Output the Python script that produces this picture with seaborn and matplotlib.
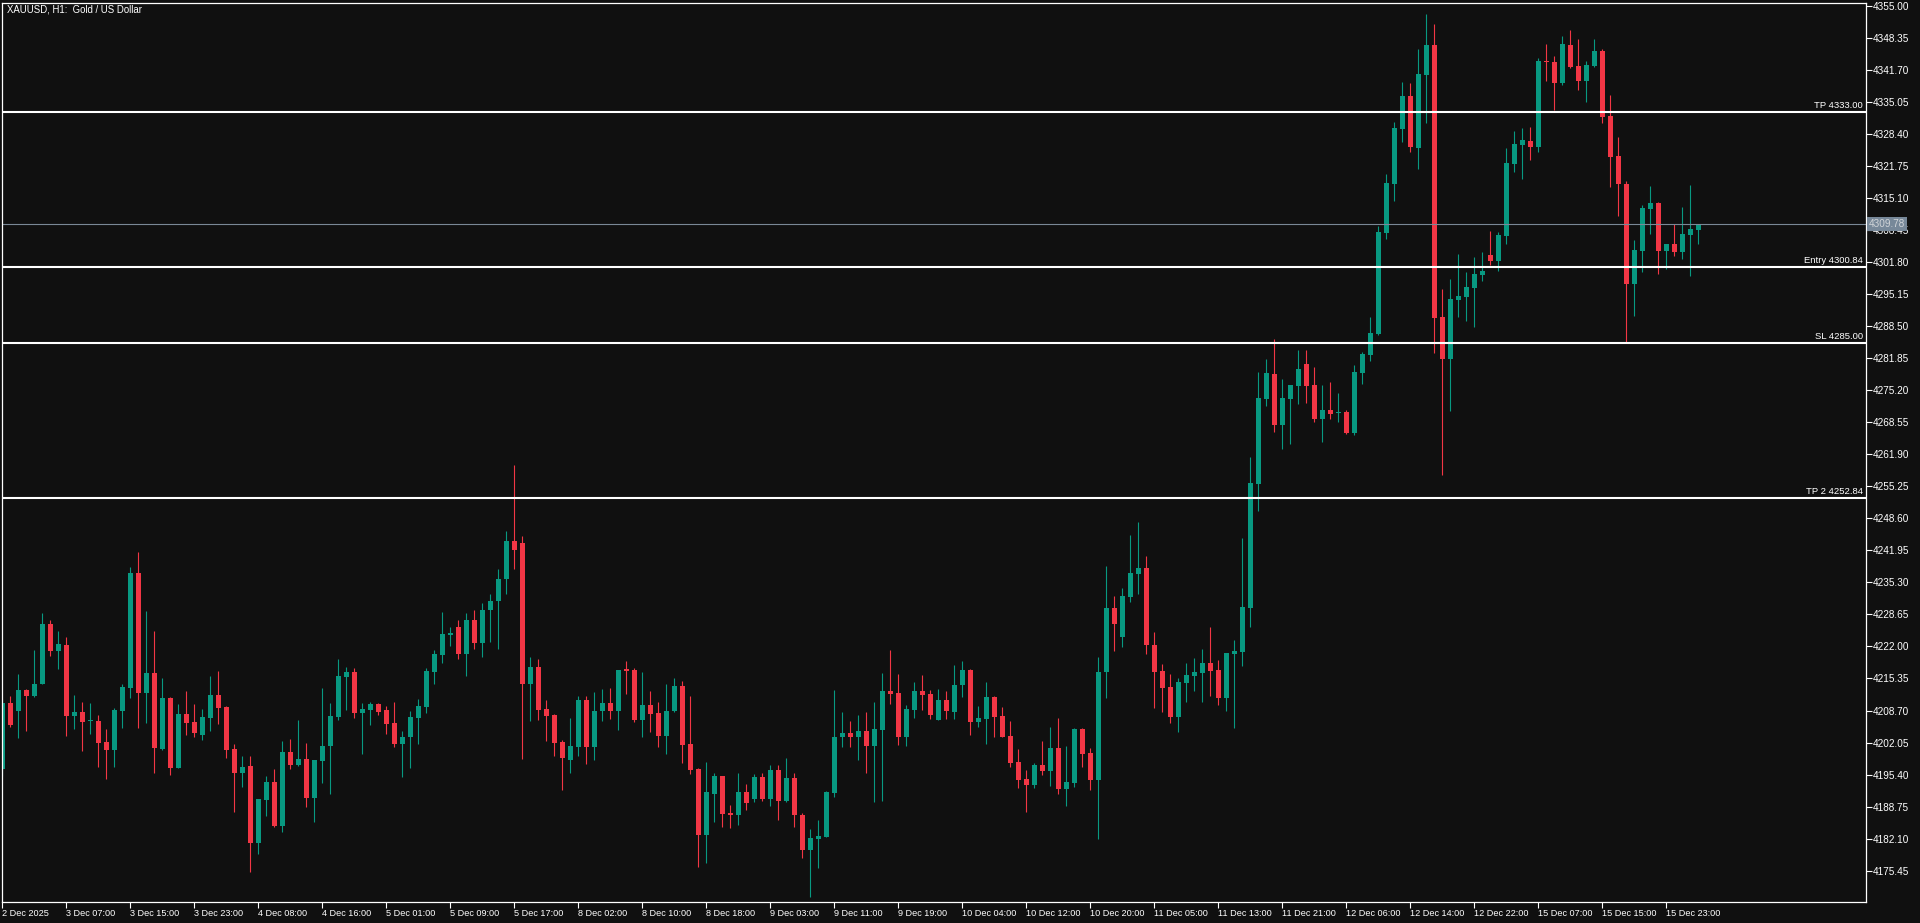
import matplotlib
matplotlib.use("Agg")
import matplotlib.pyplot as plt
import matplotlib.transforms as mtransforms
import numpy as np
import pandas as pd
import seaborn as sns

# XAUUSD H1 candles (bar 0 = 2 Dec 22:00)
opens = [
    4196.6, 4210.3, 4208.5, 4213.0, 4211.8, 4214.3, 4226.7, 4221.1, 4222.3, 4207.6,
    4208.4, 4206.45, 4206.5, 4202.2, 4200.6, 4208.7, 4213.4, 4237.3, 4212.3, 4216.5,
    4200.7, 4211.3, 4196.8, 4208.0, 4206.3, 4203.7, 4207.2, 4211.9, 4209.4, 4200.7,
    4195.8, 4197.2, 4181.1, 4190.2, 4193.9, 4184.8, 4200.1, 4197.3, 4198.6, 4190.6,
    4198.3, 4201.3, 4207.4, 4215.7, 4216.7, 4208.1, 4208.9, 4210.1, 4208.8, 4206.1,
    4201.8, 4203.1, 4207.2, 4209.5, 4216.8, 4220.3, 4224.4, 4226.0, 4220.4, 4227.5,
    4222.8, 4229.5, 4231.5, 4236.0, 4244.0, 4243.5, 4214.3, 4217.7, 4209.0, 4207.8,
    4202.2, 4198.5, 4201.2, 4210.9, 4201.2, 4208.5, 4210.3, 4208.5, 4217.1, 4217.1,
    4206.8, 4209.8, 4208.2, 4203.5, 4208.5, 4213.8, 4201.8, 4196.6, 4182.9, 4191.4,
    4195.1, 4187.4, 4187.1, 4191.8, 4190.4, 4194.9, 4190.4, 4196.4, 4190.0, 4194.7,
    4187.0, 4179.8, 4182.1, 4182.5, 4191.6, 4203.1, 4204.0, 4203.1, 4204.5, 4201.4,
    4204.7, 4212.8, 4212.3, 4203.1, 4208.9, 4212.8, 4212.1, 4206.8, 4210.9, 4208.3,
    4213.9, 4217.1, 4206.4, 4207.0, 4211.5, 4207.6, 4203.4, 4198.0, 4194.5, 4193.3,
    4197.4, 4196.2, 4200.9, 4192.5, 4193.7, 4204.9, 4199.9, 4194.3, 4216.6, 4230.0,
    4224.0, 4232.3, 4237.1, 4238.3, 4222.3, 4216.9, 4213.6, 4207.4, 4214.4, 4215.9,
    4216.5, 4218.6, 4217.1, 4211.3, 4220.4, 4220.9, 4230.0, 4255.7, 4273.4, 4278.6,
    4268.0, 4273.4, 4276.1, 4280.7, 4276.3, 4269.2, 4271.1, 4270.4, 4270.7, 4266.3,
    4278.8, 4282.5, 4286.9, 4307.9, 4318.1, 4329.5, 4336.3, 4325.5, 4340.7, 4346.9,
    4290.4, 4281.7, 4294.0, 4294.6, 4296.5, 4299.2, 4303.3, 4302.1, 4307.3, 4322.2,
    4326.2, 4327.0, 4325.7, 4343.6, 4343.4, 4339.0, 4346.9, 4342.6, 4339.4, 4342.6,
    4345.7, 4332.2, 4323.9, 4318.1, 4297.3, 4304.1, 4312.9, 4314.1, 4304.1, 4305.6,
    4303.9, 4307.5, 4308.5,
]
highs = [
    4211.0, 4211.7, 4216.3, 4213.1, 4221.3, 4229.0, 4227.5, 4225.2, 4224.0, 4211.9,
    4210.5, 4210.3, 4207.8, 4204.9, 4209.2, 4214.3, 4238.5, 4241.6, 4229.4, 4225.2,
    4215.5, 4211.5, 4210.1, 4212.8, 4210.1, 4209.0, 4215.9, 4216.9, 4209.6, 4201.8,
    4199.3, 4199.3, 4190.4, 4195.1, 4196.6, 4202.4, 4202.8, 4206.7, 4202.0, 4198.5,
    4213.4, 4210.3, 4219.4, 4217.7, 4217.5, 4210.3, 4210.5, 4210.3, 4209.6, 4210.5,
    4204.5, 4208.6, 4211.1, 4217.5, 4221.3, 4229.2, 4226.0, 4227.5, 4229.0, 4229.5,
    4231.0, 4233.0, 4238.0, 4246.0, 4259.7, 4245.0, 4219.8, 4219.4, 4210.9, 4207.9,
    4202.6, 4207.1, 4211.7, 4211.7, 4212.5, 4213.2, 4213.4, 4217.2, 4219.0, 4217.5,
    4216.7, 4212.8, 4210.5, 4214.2, 4215.5, 4214.8, 4211.7, 4196.7, 4198.0, 4195.7,
    4195.2, 4189.1, 4195.7, 4193.4, 4195.5, 4195.7, 4197.4, 4197.4, 4198.8, 4195.7,
    4187.4, 4184.1, 4186.0, 4192.0, 4213.0, 4208.4, 4206.5, 4207.8, 4208.4, 4210.5,
    4216.5, 4221.3, 4216.3, 4209.8, 4214.6, 4216.1, 4213.0, 4213.2, 4212.8, 4218.2,
    4219.0, 4217.3, 4209.6, 4214.6, 4211.7, 4209.4, 4206.5, 4200.7, 4196.4, 4197.8,
    4202.4, 4205.3, 4207.1, 4201.3, 4205.1, 4205.0, 4200.9, 4219.8, 4238.7, 4232.5,
    4234.1, 4245.2, 4247.9, 4240.8, 4225.0, 4218.4, 4216.3, 4215.5, 4218.6, 4219.6,
    4221.5, 4226.0, 4219.2, 4220.7, 4223.3, 4244.5, 4261.4, 4279.0, 4281.7, 4285.9,
    4277.6, 4276.4, 4283.6, 4283.6, 4280.0, 4276.3, 4276.9, 4274.6, 4271.1, 4280.5,
    4283.2, 4290.4, 4309.3, 4320.1, 4330.9, 4339.2, 4339.0, 4346.1, 4353.4, 4351.3,
    4296.2, 4298.3, 4303.5, 4299.8, 4302.9, 4303.9, 4308.3, 4308.1, 4325.5, 4329.1,
    4329.7, 4329.9, 4344.2, 4347.1, 4344.6, 4348.8, 4350.0, 4348.2, 4343.6, 4348.2,
    4346.1, 4336.5, 4327.8, 4318.7, 4306.4, 4313.7, 4317.6, 4314.3, 4305.6, 4309.7,
    4313.3, 4317.8, 4309.8,
]
lows = [
    4195.0, 4205.3, 4202.9, 4204.5, 4211.6, 4214.2, 4220.1, 4217.4, 4203.5, 4204.9,
    4200.2, 4203.9, 4197.0, 4194.5, 4197.0, 4205.1, 4211.4, 4205.1, 4206.2, 4195.8,
    4200.4, 4195.4, 4196.8, 4203.7, 4203.1, 4202.6, 4204.5, 4205.8, 4198.9, 4187.7,
    4192.9, 4175.2, 4178.8, 4186.7, 4184.6, 4183.5, 4196.6, 4197.2, 4188.7, 4185.6,
    4193.7, 4191.4, 4206.8, 4208.9, 4207.2, 4199.7, 4205.6, 4207.8, 4203.9, 4201.2,
    4194.8, 4196.8, 4201.8, 4208.1, 4214.3, 4218.6, 4222.0, 4219.5, 4215.9, 4221.5,
    4219.9, 4223.0, 4221.5, 4233.0, 4238.0, 4198.7, 4206.5, 4206.8, 4202.4, 4199.3,
    4192.1, 4195.8, 4199.3, 4197.5, 4198.5, 4206.6, 4207.0, 4204.7, 4212.2, 4206.4,
    4203.1, 4204.3, 4201.2, 4199.7, 4208.3, 4197.9, 4195.6, 4176.3, 4177.1, 4185.6,
    4184.6, 4184.2, 4185.0, 4188.1, 4189.6, 4190.0, 4188.9, 4186.0, 4189.8, 4184.6,
    4178.1, 4170.0, 4175.9, 4182.4, 4190.8, 4201.2, 4201.2, 4198.5, 4195.8, 4189.6,
    4189.9, 4210.1, 4201.6, 4201.4, 4207.2, 4208.9, 4207.0, 4206.8, 4207.0, 4207.0,
    4211.6, 4203.7, 4205.3, 4201.8, 4203.1, 4203.1, 4197.0, 4192.7, 4187.7, 4192.7,
    4195.4, 4193.1, 4191.4, 4188.9, 4192.9, 4197.0, 4192.1, 4182.1, 4211.2, 4221.1,
    4221.9, 4231.2, 4232.9, 4220.4, 4209.2, 4208.4, 4206.1, 4204.2, 4210.5, 4212.8,
    4210.5, 4211.7, 4209.8, 4208.6, 4205.1, 4217.9, 4226.0, 4250.1, 4271.9, 4266.5,
    4263.0, 4264.1, 4272.4, 4272.6, 4268.6, 4264.5, 4269.2, 4268.6, 4266.1, 4265.9,
    4276.5, 4281.3, 4286.7, 4306.6, 4314.5, 4326.8, 4324.7, 4321.2, 4330.7, 4283.0,
    4257.6, 4270.9, 4290.4, 4289.6, 4288.4, 4297.9, 4301.2, 4300.0, 4305.6, 4320.5,
    4319.1, 4323.0, 4324.7, 4339.4, 4333.4, 4338.6, 4342.1, 4337.6, 4335.1, 4342.4,
    4330.7, 4317.4, 4311.4, 4285.2, 4290.6, 4299.8, 4307.7, 4299.4, 4300.4, 4303.1,
    4302.5, 4298.9, 4305.6,
]
closes = [
    4210.3, 4205.6, 4213.0, 4211.8, 4214.3, 4226.7, 4221.1, 4222.5, 4207.6, 4208.4,
    4206.4, 4206.55, 4202.0, 4200.6, 4208.8, 4213.6, 4237.3, 4212.3, 4216.5, 4201.0,
    4211.3, 4196.8, 4208.0, 4206.2, 4204.1, 4207.4, 4211.9, 4209.3, 4200.6, 4195.8,
    4197.0, 4181.1, 4190.3, 4193.9, 4184.8, 4200.1, 4197.3, 4198.6, 4190.6, 4198.4,
    4201.3, 4207.6, 4215.9, 4216.7, 4208.1, 4209.0, 4210.1, 4208.3, 4206.0, 4201.8,
    4203.2, 4207.4, 4209.6, 4216.9, 4220.4, 4224.6, 4224.8, 4220.4, 4227.5, 4222.7,
    4229.5, 4231.5, 4236.0, 4244.0, 4242.0, 4214.3, 4217.7, 4208.9, 4207.6, 4202.0,
    4198.9, 4201.3, 4210.9, 4201.2, 4208.6, 4210.3, 4208.5, 4217.1, 4217.0, 4206.8,
    4209.8, 4208.0, 4203.5, 4208.6, 4213.8, 4201.6, 4196.4, 4182.9, 4191.8, 4195.1,
    4187.3, 4187.1, 4191.8, 4189.4, 4194.9, 4190.4, 4196.4, 4190.0, 4194.7, 4186.9,
    4179.8, 4182.2, 4182.6, 4191.8, 4203.2, 4204.0, 4203.1, 4204.5, 4201.4, 4204.9,
    4212.8, 4212.2, 4203.1, 4209.0, 4212.8, 4212.0, 4207.8, 4210.9, 4208.5, 4214.0,
    4217.1, 4206.4, 4207.1, 4211.5, 4207.4, 4203.3, 4197.9, 4194.3, 4193.3, 4197.4,
    4196.2, 4200.9, 4192.5, 4193.9, 4204.9, 4199.7, 4194.3, 4216.7, 4230.0, 4226.7,
    4232.5, 4237.3, 4238.3, 4222.3, 4216.7, 4213.4, 4207.4, 4214.6, 4216.1, 4216.7,
    4218.6, 4216.9, 4211.3, 4220.6, 4221.1, 4230.2, 4256.0, 4273.6, 4278.8, 4268.0,
    4273.6, 4276.3, 4279.6, 4276.1, 4269.2, 4271.1, 4270.3, 4270.6, 4266.3, 4279.0,
    4282.7, 4287.1, 4308.1, 4318.3, 4329.7, 4336.3, 4325.7, 4340.9, 4346.9, 4290.2,
    4281.7, 4294.2, 4294.8, 4296.7, 4299.4, 4300.0, 4302.1, 4307.5, 4322.4, 4326.4,
    4327.2, 4325.7, 4343.6, 4343.3, 4339.0, 4347.1, 4342.4, 4339.4, 4342.8, 4345.7,
    4332.0, 4323.7, 4318.1, 4297.3, 4304.3, 4313.1, 4314.1, 4304.1, 4305.6, 4303.9,
    4307.7, 4308.7, 4309.8,
]

time_labels = [
    "2 Dec 2025", "3 Dec 07:00", "3 Dec 15:00", "3 Dec 23:00", "4 Dec 08:00",
    "4 Dec 16:00", "5 Dec 01:00", "5 Dec 09:00", "5 Dec 17:00", "8 Dec 02:00",
    "8 Dec 10:00", "8 Dec 18:00", "9 Dec 03:00", "9 Dec 11:00", "9 Dec 19:00",
    "10 Dec 04:00", "10 Dec 12:00", "10 Dec 20:00", "11 Dec 05:00", "11 Dec 13:00",
    "11 Dec 21:00", "12 Dec 06:00", "12 Dec 14:00", "12 Dec 22:00", "15 Dec 07:00",
    "15 Dec 15:00", "15 Dec 23:00",
]
price_ticks = [4355.00 - 6.65 * k for k in range(28)]

level_prices = [4333.00, 4300.84, 4285.00, 4252.84]
level_names = ["TP 4333.00", "Entry 4300.84", "SL 4285.00", "TP 2 4252.84"]
last_price = 4309.78
title = "XAUUSD, H1:  Gold / US Dollar"

BG = "#101010"
UP = "#089981"
DOWN = "#f23645"
FONT = ["Liberation Sans", "DejaVu Sans"]

df = pd.DataFrame({"open": opens, "high": highs, "low": lows, "close": closes})
df["bar"] = np.arange(len(df))
df["color"] = np.where(df["close"] >= df["open"], UP, DOWN)
df["body_low"] = df[["open", "close"]].min(axis=1)
df["body_h"] = (df["close"] - df["open"]).abs().clip(lower=0.25)

sns.set_theme(style="dark", rc={"axes.facecolor": BG, "figure.facecolor": BG})
plt.rcParams["font.family"] = FONT

fig = plt.figure(figsize=(19.2, 9.23), dpi=100)
ax = fig.add_axes([2 / 1920, 1 - 902 / 923, 1864 / 1920, 899 / 923])
ax.set_facecolor(BG)

# wicks and bodies
ax.vlines(df["bar"], df["low"], df["high"], colors=df["color"], linewidth=0.8)
ax.bar(df["bar"], df["body_h"], bottom=df["body_low"], width=0.62,
       color=df["color"], linewidth=0)

# trade levels
blend = mtransforms.blended_transform_factory(ax.transAxes, ax.transData)
for price, name in zip(level_prices, level_names):
    ax.axhline(price, color="white", linewidth=1.5)
    ax.text(1 - 3 / 1864, price + 0.45, name, transform=blend, ha="right",
            va="bottom", fontsize=6.8, color="white")

ax.axhline(last_price, color="#7a8896", linewidth=0.8)
ax.text(1 + 3 / 1864, last_price, f"{last_price:.2f}", transform=blend,
        ha="left", va="center", fontsize=7.2, color="#d0d4d8", clip_on=False,
        bbox=dict(facecolor="#778899", edgecolor="none", pad=1.2), zorder=5)

ax.set_xlim(-0.0625, 232.94)
ax.set_ylim(4168.93, 4355.64)

ax.yaxis.tick_right()
ax.set_yticks(price_ticks)
ax.set_yticklabels([f"{v:.2f}" for v in price_ticks])
ax.set_xticks(np.arange(0, 8 * len(time_labels), 8))
ax.set_xticklabels(time_labels)
for lab in ax.get_xticklabels():
    lab.set_horizontalalignment("left")

ax.tick_params(axis="y", direction="out", length=4, width=0.8, colors="white",
               labelsize=7.2, pad=1, right=True, left=False)
ax.tick_params(axis="x", direction="out", length=4, width=0.8, colors="white",
               labelsize=6.6, pad=1, bottom=True)
ax.grid(False)
for sp in ax.spines.values():
    sp.set_color("white")
    sp.set_linewidth(0.9)
    sp.set_visible(True)

fig.text(7 / 1920, 1 - 10 / 923, title, ha="left", va="center",
         fontsize=6.9, color="white")

fig.savefig("out.png", dpi=100, facecolor=BG)
plt.close(fig)
